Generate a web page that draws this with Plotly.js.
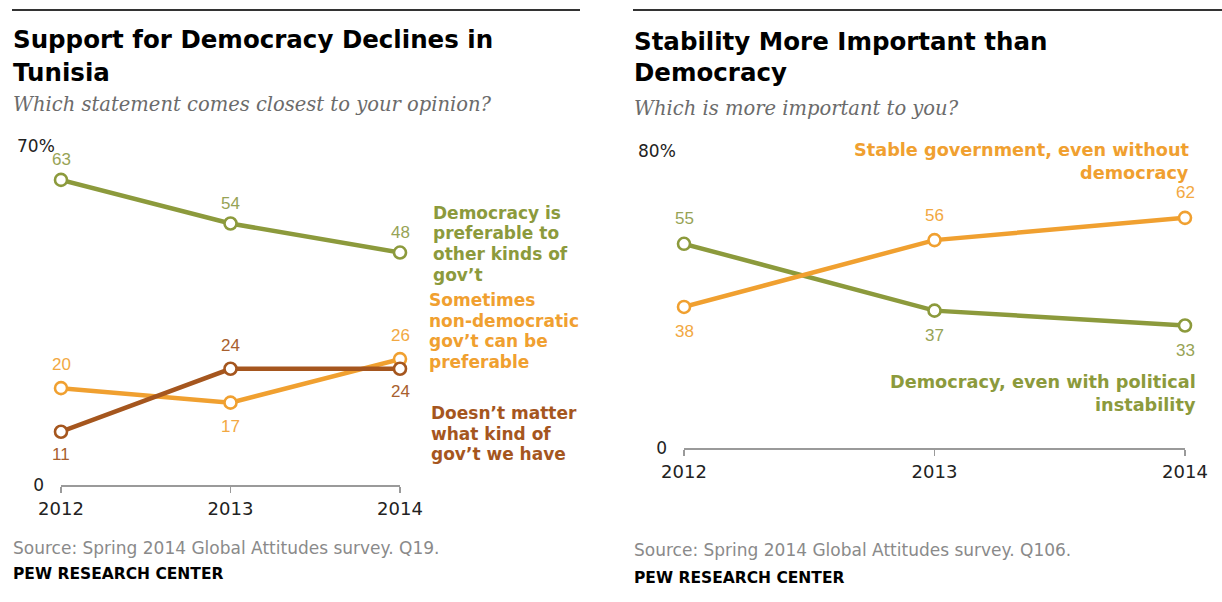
<!DOCTYPE html>
<html>
<head>
<meta charset="utf-8">
<script src="https://cdn.plot.ly/plotly-3.0.1.min.js"></script>
<style>html,body{margin:0;padding:0;background:#fff}#chart{width:1222px;height:602px}</style>
</head>
<body>
<div id="chart"></div>
<script>
// ---- Data ----
const years = [2012, 2013, 2014];

// Left chart: Support for Democracy Declines in Tunisia
const democracyPreferable = [63, 54, 48];
const nonDemocraticPreferable = [20, 17, 26];
const doesntMatter = [11, 24, 24];

// Right chart: Stability More Important than Democracy
const stableGovernment = [38, 56, 62];
const democracyInstability = [55, 37, 33];

// Label placement (above = 1, below = -1)
const posDemPref = [1, 1, 1];
const posNonDem = [1, -1, 1];
const posDoesnt = [-1, 1, -1];
const posStable = [-1, 1, 1];
const posDemInst = [1, -1, -1];

// ---- Styling ----
const GREEN = '#8C9A3C', GREEN_T = '#97A355';
const ORANGE = '#F0A030', ORANGE_T = '#F2A842';
const BROWN = '#A5561E', BROWN_T = '#A8602E';
const W = 1222, H = 602;
const px = x => x / W;
const py = y => 1 - y / H;
const SANS = 'DejaVu Sans, sans-serif';
const NUM = 'Liberation Sans, Arial, sans-serif';

function line(x, y, color, xa, ya) {
  return {
    x: x, y: y, xaxis: xa, yaxis: ya, type: 'scatter', mode: 'lines+markers',
    line: {color: color, width: 4.5},
    marker: {size: 12, color: '#fff', line: {color: color, width: 2.6}},
    cliponaxis: false, hoverinfo: 'skip', showlegend: false
  };
}

const traces = [
  line(years, democracyPreferable, GREEN, 'x', 'y'),
  line(years, nonDemocraticPreferable, ORANGE, 'x', 'y'),
  line(years, doesntMatter, BROWN, 'x', 'y'),
  line(years, democracyInstability, GREEN, 'x2', 'y2'),
  line(years, stableGovernment, ORANGE, 'x2', 'y2')
];

const annotations = [];
function valueLabels(vals, pos, color, xr, yr, shift) {
  vals.forEach((v, i) => {
    annotations.push({
      x: years[i], y: v, xref: xr, yref: yr, text: String(v), showarrow: false,
      yshift: pos[i] * shift, font: {family: NUM, size: 17, color: color}
    });
  });
}
valueLabels(democracyPreferable, posDemPref, GREEN_T, 'x', 'y', 20);
valueLabels(nonDemocraticPreferable, posNonDem, ORANGE_T, 'x', 'y', 24);
valueLabels(doesntMatter, posDoesnt, BROWN_T, 'x', 'y', 23);
valueLabels(stableGovernment, posStable, ORANGE_T, 'x2', 'y2', 25);
valueLabels(democracyInstability, posDemInst, GREEN_T, 'x2', 'y2', 25);

function txt(x, y, text, opts) {
  annotations.push(Object.assign({
    x: px(x), y: py(y), xref: 'paper', yref: 'paper', text: text, showarrow: false,
    xanchor: 'left', yanchor: 'middle', align: 'left'
  }, opts));
}
// multi-line text with custom line spacing (y = centre of first line)
function lines(x, y, arr, gap, opts) {
  arr.forEach((t, i) => txt(x, y + i * gap, t, opts));
}

// Titles
const titleFont = {family: SANS, size: 24.5, color: '#000'};
lines(11, 40, ['<b>Support for Democracy Declines in</b>', '<b>Tunisia</b>'], 32, {font: titleFont});
lines(632, 41, ['<b>Stability More Important than</b>', '<b>Democracy</b>'], 32, {font: titleFont});
const subFont = {family: 'DejaVu Serif, serif', size: 19.5, color: '#6b6b6b'};
txt(11, 105, '<i>Which statement comes closest to your opinion?</i>', {font: subFont});
txt(632, 108, '<i>Which is more important to you?</i>', {font: subFont});

// Top-of-axis labels
txt(15, 146, '70%', {font: {family: SANS, size: 17, color: '#222'}});
txt(636, 151, '80%', {font: {family: SANS, size: 17, color: '#222'}});

// Series labels
const lf = (c, s) => ({family: SANS, size: s, color: c});
lines(431, 213, ['<b>Democracy is</b>', '<b>preferable to</b>', '<b>other kinds of</b>', '<b>gov\u2019t</b>'], 20.5, {font: lf(GREEN, 17)});
lines(427, 300, ['<b>Sometimes</b>', '<b>non-democratic</b>', '<b>gov\u2019t can be</b>', '<b>preferable</b>'], 20.5, {font: lf(ORANGE, 17)});
lines(429, 413, ['<b>Doesn\u2019t matter</b>', '<b>what kind of</b>', '<b>gov\u2019t we have</b>'], 20.5, {font: lf(BROWN, 17)});
lines(1191, 150, ['<b>Stable government, even without</b>', '<b>democracy</b>'], 22.5, {font: lf(ORANGE, 17.7), xanchor: 'right', align: 'right'});
lines(1198, 382, ['<b>Democracy, even with political</b>', '<b>instability</b>'], 22.5, {font: lf(GREEN, 17.7), xanchor: 'right', align: 'right'});

// Footers
const srcFont = {family: SANS, size: 17, color: '#8a8a8a'};
const pewFont = {family: SANS, size: 15.5, color: '#000'};
txt(11, 548, 'Source: Spring 2014 Global Attitudes survey. Q19.', {font: srcFont});
txt(11, 574, '<b>PEW RESEARCH CENTER</b>', {font: pewFont});
txt(632, 550, 'Source: Spring 2014 Global Attitudes survey. Q106.', {font: srcFont});
txt(632, 578, '<b>PEW RESEARCH CENTER</b>', {font: pewFont});

const xaxisBase = {
  tickvals: years, ticktext: years.map(String), range: [2012, 2014],
  showline: true, linecolor: '#9a9a9a', linewidth: 2,
  ticks: 'outside', ticklen: 6, tickwidth: 1.5, tickcolor: '#9a9a9a',
  showgrid: false, zeroline: false, fixedrange: true,
  tickfont: {family: SANS, size: 18, color: '#222'}
};
const yaxisBase = {
  tickvals: [0], ticktext: ['0'], showline: false, showgrid: false, zeroline: false,
  ticks: '', fixedrange: true, ticklabelstandoff: 16,
  tickfont: {family: SANS, size: 17, color: '#222'}
};

const layout = {
  width: W, height: H, margin: {l: 0, r: 0, t: 0, b: 0},
  paper_bgcolor: '#fff', plot_bgcolor: 'rgba(0,0,0,0)', showlegend: false,
  xaxis: Object.assign({}, xaxisBase, {domain: [px(61), px(400)], anchor: 'y'}),
  yaxis: Object.assign({}, yaxisBase, {domain: [py(485), py(146)], range: [0, 70], anchor: 'x'}),
  xaxis2: Object.assign({}, xaxisBase, {domain: [px(684), px(1185)], anchor: 'y2'}),
  yaxis2: Object.assign({}, yaxisBase, {domain: [py(448), py(151)], range: [0, 80], anchor: 'x2'}),
  annotations: annotations,
  shapes: [
    {type: 'line', xref: 'paper', yref: 'paper', x0: px(12), x1: px(580), y0: py(10), y1: py(10), line: {color: '#333', width: 2}},
    {type: 'line', xref: 'paper', yref: 'paper', x0: px(633), x1: px(1222), y0: py(10), y1: py(10), line: {color: '#333', width: 2}}
  ]
};

Plotly.newPlot('chart', traces, layout, {displayModeBar: false, staticPlot: true});
</script>
</body>
</html>
